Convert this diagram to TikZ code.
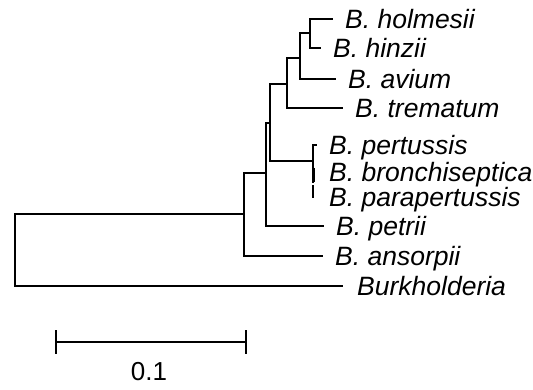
\documentclass[tikz,border=0pt]{standalone}
\usepackage{fontspec}
\setmainfont{Liberation Sans}
\begin{document}
\begin{tikzpicture}[x=1pt,y=-1pt,
  br/.style={line width=1.7pt, line cap=rect},
  leaf/.style={anchor=base west, inner sep=0pt, xshift=13pt, yshift=-9.5pt,
    font=\fontsize{26.5}{29}\selectfont\itshape},
  scaletxt/.style={inner sep=0pt, font=\fontsize{26}{29}\selectfont}]
\useasboundingbox (0,0) rectangle (533,390);
% internal nodes
\coordinate (root) at (15,250);
\coordinate (A) at (244,214);
\coordinate (B) at (266,173);
\coordinate (C) at (270,123);
\coordinate (D) at (313,161);
\coordinate (E) at (287,84);
\coordinate (F) at (300,58);
\coordinate (G) at (310,33);
% leaf tips
\coordinate (tHolm) at (332,19);
\coordinate (tHinz) at (320,48);
\coordinate (tAvi) at (335,79);
\coordinate (tTrem) at (342,108);
\coordinate (tPert) at (316,145);
\coordinate (tBron) at (316,172);
\coordinate (tPara) at (316,197);
\coordinate (tPetr) at (323,226);
\coordinate (tAns) at (322,256);
\coordinate (tBurk) at (342,286);
% labels
\node[leaf] (lHolm) at (tHolm) {B. holmesii};
\node[leaf] (lHinz) at (tHinz) {B. hinzii};
\node[leaf] (lAvi) at (tAvi) {B. avium};
\node[leaf] (lTrem) at (tTrem) {B. trematum};
\node[leaf] (lPert) at (tPert) {B. pertussis};
\node[leaf] (lBron) at (tBron) {B. bronchiseptica};
\node[leaf] (lPara) at (tPara) {B. parapertussis};
\node[leaf] (lPetr) at (tPetr) {B. petrii};
\node[leaf] (lAns) at (tAns) {B. ansorpii};
\node[leaf, xshift=2pt] (lBurk) at (tBurk) {Burkholderia};
% branches
\draw[br] (root |- A) -- (A);
\draw[br] (root |- A) |- (tBurk);
\draw[br] (A |- B) |- (tAns);
\draw[br] (A |- B) -- (B);
\draw[br] (B |- C) |- (tPetr);
\draw[br] (B |- C) -- (C);
\draw[br] (C |- E) |- (D);
\draw[br] (C |- E) -- (E);
\draw[br] (D |- tPert) -- (tPert);
\draw[br] (D |- tPert) -- (D |- tPara);
\draw[line width=3pt] ([yshift=-7pt]D) -- ([yshift=-21pt]D);
\draw[white, line width=2pt] ([yshift=-22.5pt]D) -- ([yshift=-24.5pt]D);
\draw[br] (E |- F) |- (tTrem);
\draw[br] (E |- F) -- (F);
\draw[br] (F |- G) |- (tAvi);
\draw[br] (F |- G) -- (G);
\draw[br] (G |- tHolm) -- (tHolm);
\draw[br] (G |- tHolm) |- (tHinz);
% scale bar
\coordinate (sbL) at (56,342);
\coordinate (sbR) at (246,342);
\draw[br] (sbL) -- (sbR);
\draw[br] ([yshift=-11pt]sbL) -- ([yshift=11pt]sbL);
\draw[br] ([yshift=-11pt]sbR) -- ([yshift=11pt]sbR);
\node[scaletxt] (sbT) at (149,372) {0.1};
\end{tikzpicture}
\end{document}
